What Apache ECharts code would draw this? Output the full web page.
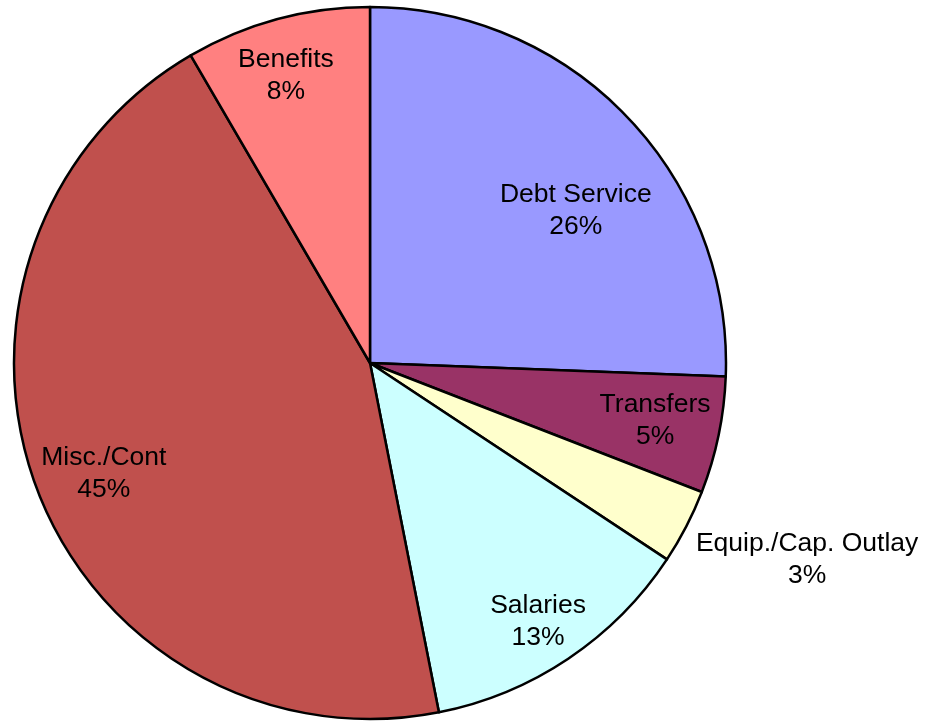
<!DOCTYPE html>
<html>
<head>
<meta charset="utf-8">
<style>html,body{margin:0;padding:0;background:#fff;}#main{width:927px;height:721px;}</style>
<script src="https://cdn.jsdelivr.net/npm/echarts@6/dist/echarts.min.js"></script>
</head>
<body>
<div id="main"></div>
<script>
const categories = ['Debt Service', 'Transfers', 'Equip./Cap. Outlay', 'Salaries', 'Misc./Cont', 'Benefits'];
const values = [25.6, 5.3, 3.4, 12.6, 44.7, 8.4];
const colors = ['#9999FF', '#993366', '#FFFFCC', '#CCFFFF', '#C0504D', '#FF8080'];
// label placement (angle clockwise from top in degrees, distance as fraction of radius)
const labelAngles = [53.2, 101.1, 114.0, 146.8, 247.7, 343.8];
const labelDist = [0.722, 0.816, 1.344, 0.862, 0.808, 0.846];

const CX = 370, CY = 363, R = 356;
const chart = echarts.init(document.getElementById('main'), null, {renderer: 'canvas'});
chart.setOption({
  animation: false,
  backgroundColor: '#ffffff',
  series: [{
    type: 'pie',
    center: [CX, CY],
    radius: [0, R],
    startAngle: 90,
    clockwise: true,
    avoidLabelOverlap: false,
    data: categories.map((n, i) => ({name: n, value: values[i], itemStyle: {color: colors[i]}})),
    itemStyle: {borderColor: '#000', borderWidth: 2.5},
    emphasis: {disabled: true},
    label: {
      show: true,
      position: 'inside',
      color: '#000',
      fontFamily: 'Liberation Sans, Arial, sans-serif',
      fontSize: 26.5,
      lineHeight: 32,
      align: 'center',
      formatter: p => p.name + '\n' + Math.round(p.percent) + '%'
    },
    labelLine: {show: false},
    labelLayout: function (p) {
      const a = labelAngles[p.dataIndex] * Math.PI / 180;
      const d = labelDist[p.dataIndex] * R;
      return {x: CX + d * Math.sin(a), y: CY + 2 - d * Math.cos(a), align: 'center', verticalAlign: 'middle'};
    }
  }]
});
</script>
</body>
</html>
